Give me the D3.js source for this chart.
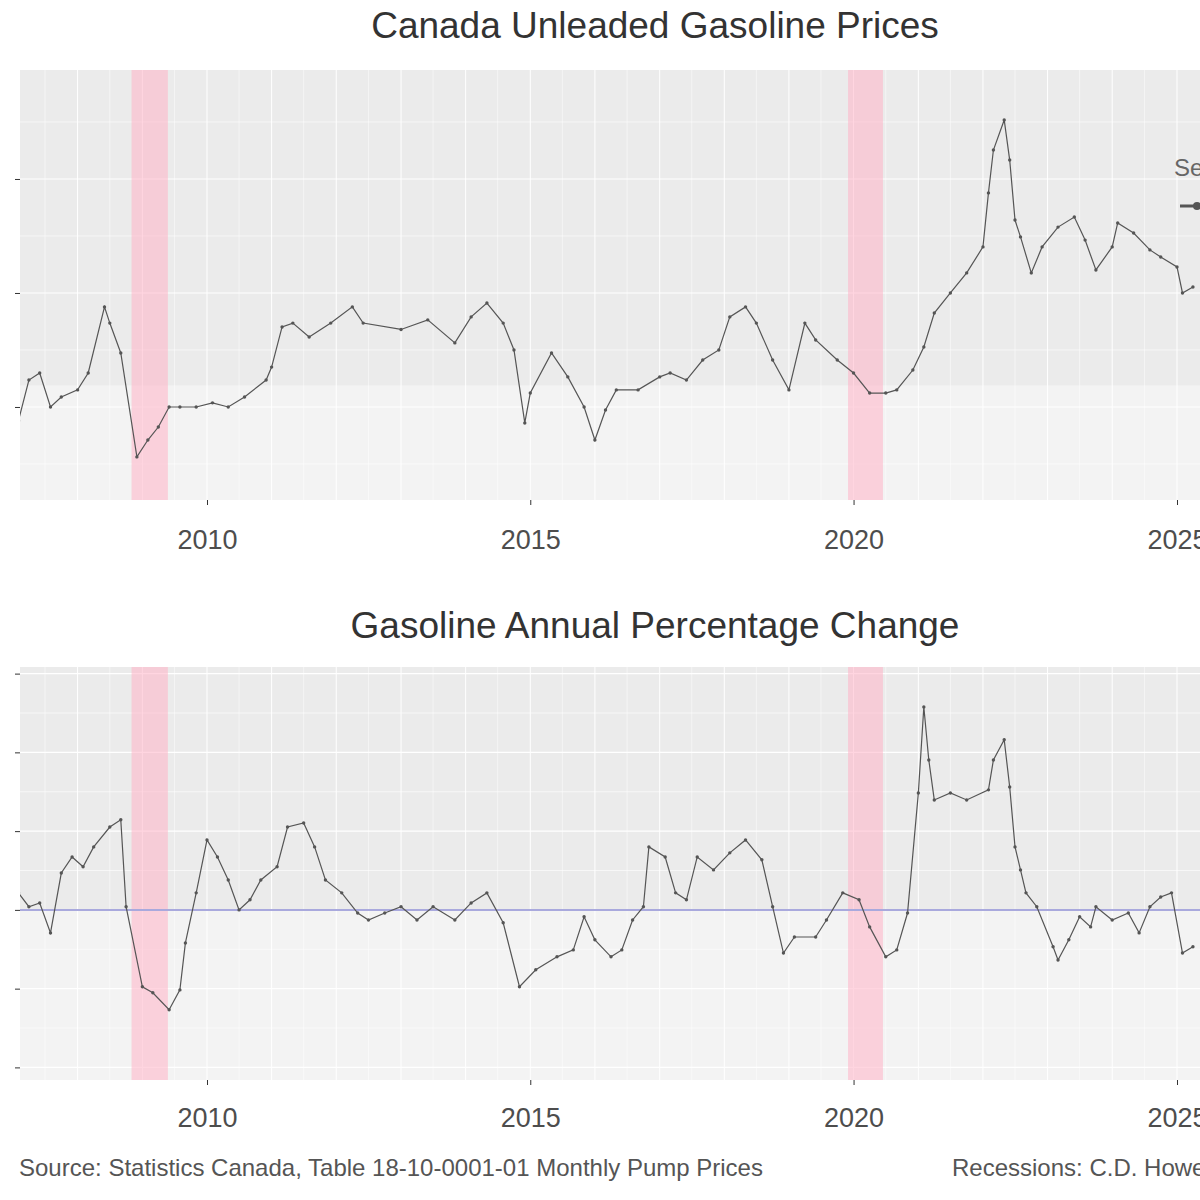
<!DOCTYPE html>
<html><head><meta charset="utf-8">
<script src="https://cdn.jsdelivr.net/npm/d3@7"></script>
<style>body{margin:0;background:#fff;overflow:hidden}text{font-family:"Liberation Sans",Arial,sans-serif}</style>
</head><body><svg id="c" width="1200" height="1200"></svg>
<script>
// ---- data ----
const priceDates = ["2007-02","2007-04","2007-06","2007-08","2007-10","2008-01","2008-03","2008-06","2008-07","2008-09","2008-12","2009-02","2009-04","2009-06","2009-08","2009-11","2010-02","2010-05","2010-08","2010-12","2011-01","2011-03","2011-05","2011-08","2011-12","2012-04","2012-06","2013-01","2013-06","2013-11","2014-02","2014-05","2014-08","2014-10","2014-12","2015-01","2015-05","2015-08","2015-11","2016-01","2016-03","2016-05","2016-09","2017-01","2017-03","2017-06","2017-09","2017-12","2018-02","2018-05","2018-07","2018-10","2019-01","2019-04","2019-06","2019-10","2020-01","2020-04","2020-07","2020-09","2020-12","2021-02","2021-04","2021-07","2021-10","2022-01","2022-02","2022-03","2022-05","2022-06","2022-07","2022-08","2022-10","2022-12","2023-03","2023-06","2023-08","2023-10","2024-01","2024-02","2024-05","2024-08","2024-10","2025-01","2025-02","2025-04"];
const priceValues = [94,111.8,114.9,100,104.4,107.5,114.9,143.9,136.8,123.7,78.1,85.5,91.2,100,100,100,101.8,100,104.4,111.8,117.5,135.1,136.8,130.7,136.8,143.9,136.8,134,138.2,128.1,139.5,145.6,136.8,125,93,106.1,123.7,113.2,100,85.5,98.7,107.5,107.5,113.2,114.9,111.8,120.6,125,139.5,143.9,136.8,120.6,107.5,136.8,129.4,120.6,114.9,106.1,106.1,107.5,116.2,126.3,141.2,150,158.8,170.2,193.9,212.7,225.9,208.3,182,174.6,158.8,170.2,178.9,183.3,173.2,160.1,170.2,180.7,176.3,168.9,165.8,161.4,150,152.6];

const changeDates = ["2007-02","2007-04","2007-06","2007-08","2007-10","2007-12","2008-02","2008-04","2008-07","2008-09","2008-10","2009-01","2009-03","2009-06","2009-08","2009-09","2009-11","2010-01","2010-03","2010-05","2010-07","2010-09","2010-11","2011-02","2011-04","2011-07","2011-09","2011-11","2012-02","2012-05","2012-07","2012-10","2013-01","2013-04","2013-07","2013-11","2014-02","2014-05","2014-08","2014-11","2015-02","2015-06","2015-09","2015-11","2016-01","2016-04","2016-06","2016-08","2016-10","2016-11","2017-02","2017-04","2017-06","2017-08","2017-11","2018-02","2018-05","2018-08","2018-10","2018-12","2019-02","2019-06","2019-08","2019-11","2020-02","2020-04","2020-07","2020-09","2020-11","2021-01","2021-02","2021-03","2021-04","2021-07","2021-10","2022-02","2022-03","2022-05","2022-06","2022-07","2022-08","2022-09","2022-11","2023-02","2023-03","2023-05","2023-07","2023-09","2023-10","2024-01","2024-04","2024-06","2024-08","2024-10","2024-12","2025-02","2025-04"];
const changeValues = [5.4,1.0,2.2,-7.3,11.7,16.8,13.7,20,26.3,28.6,1.0,-24.4,-26.3,-31.7,-25.4,-10.5,5.4,22.2,16.8,9.5,0,3.2,9.5,13.7,26.3,27.6,20,9.5,5.4,-1.0,-3.2,-1.0,1.0,-3.2,1.0,-3.2,2.2,5.4,-4.1,-24.4,-19,-14.9,-12.7,-2.2,-9.5,-14.9,-12.7,-3.2,1.0,20,16.8,5.4,3.2,16.8,12.7,18.1,22.2,15.9,1.0,-13.7,-8.6,-8.6,-3.2,5.4,3.2,-5.4,-14.9,-12.7,-1.0,37.1,64.4,47.6,34.9,37.1,34.9,38.1,47.6,54,39,20,12.7,5.4,1.0,-11.7,-15.9,-9.5,-2.2,-5.4,1.0,-3.2,-1.0,-7.3,1.0,4.1,5.4,-13.7,-11.7];

const recessionStarts = ["2008-11-01","2019-12-01"];
const recessionEnds   = ["2009-05-25","2020-06-15"];

const xTickDates  = ["2010-01-01","2015-01-01","2020-01-01","2025-01-01"];
const xTickLabels = ["2010","2015","2020","2025"];
const priceTicks  = [100,150,200];
const changeTicks = [-50,-25,0,25,50,75];
const priceBand   = [59.2,109.5];
const changeBand  = [-54,0];

const titleTop    = "Canada Unleaded Gasoline Prices";
const titleBottom = "Gasoline Annual Percentage Change";
const captionLeft = "Source: Statistics Canada, Table 18-10-0001-01 Monthly Pump Prices";
const captionRight= "Recessions: C.D. Howe Institute";
const legendTitle = "Series";

// ---- setup ----
const pM = d3.timeParse("%Y-%m"), pD = d3.timeParse("%Y-%m-%d");
const svg = d3.select("#c");
const X0 = 20, X1 = 1240;
const x = d3.scaleTime().domain([pD(xTickDates[0]), pD(xTickDates[3])]).range([207, 1177]);
const panels = [
  {y0:70, y1:500, dom:[59.2,247.8], ticks:priceTicks, minor:[75,125,175,225], dates:priceDates, vals:priceValues, band:priceBand, title:titleTop, titleY:38, labOff:30, zero:false},
  {y0:667, y1:1080, dom:[-54,77.1], ticks:changeTicks, minor:[-37.5,-12.5,12.5,37.5,62.5], dates:changeDates, vals:changeValues, band:changeBand, title:titleBottom, titleY:638, labOff:28, zero:true}
];
const defs = svg.append("defs");
const years = d3.range(2007, 2027).map(yr => new Date(yr,0,1));
const halfYears = d3.range(2007, 2026).map(yr => new Date(yr,6,1));

panels.forEach((P, i) => {
  const y = d3.scaleLinear().domain(P.dom).range([P.y1, P.y0]);
  defs.append("clipPath").attr("id","clip"+i).append("rect")
    .attr("x",X0).attr("y",P.y0).attr("width",X1-X0).attr("height",P.y1-P.y0);
  const g = svg.append("g").attr("clip-path",`url(#clip${i})`);
  g.append("rect").attr("x",X0).attr("y",P.y0).attr("width",X1-X0).attr("height",P.y1-P.y0).attr("fill","#EBEBEB");
  g.append("rect").attr("x",X0).attr("width",X1-X0)
    .attr("y",y(P.band[1])).attr("height",y(P.band[0])-y(P.band[1]))
    .attr("fill","#ffffff").attr("opacity",0.4);
  g.selectAll(".hmin").data(P.minor).join("line")
    .attr("x1",X0).attr("x2",X1).attr("y1",d=>y(d)).attr("y2",d=>y(d))
    .attr("stroke","#fff").attr("stroke-width",0.6);
  g.selectAll(".hmaj").data(P.ticks).join("line")
    .attr("x1",X0).attr("x2",X1).attr("y1",d=>y(d)).attr("y2",d=>y(d))
    .attr("stroke","#fff").attr("stroke-width",1.2);
  g.selectAll(".vmin").data(halfYears).join("line")
    .attr("x1",d=>x(d)).attr("x2",d=>x(d)).attr("y1",P.y0).attr("y2",P.y1)
    .attr("stroke","#fff").attr("stroke-width",0.5);
  g.selectAll(".vmaj").data(years).join("line")
    .attr("x1",d=>x(d)).attr("x2",d=>x(d)).attr("y1",P.y0).attr("y2",P.y1)
    .attr("stroke","#fff").attr("stroke-width",1);
  g.selectAll(".rec").data(recessionStarts).join("rect")
    .attr("x",(d)=>x(pD(d))).attr("width",(d,j)=>x(pD(recessionEnds[j]))-x(pD(d)))
    .attr("y",P.y0).attr("height",P.y1-P.y0)
    .attr("fill","#ffb3c6").attr("opacity",0.55);
  if (P.zero) {
    g.append("line").attr("x1",X0).attr("x2",X1).attr("y1",y(0)).attr("y2",y(0))
      .attr("stroke","#a9a9dd").attr("stroke-width",2);
  }
  const pts = P.dates.map((d,k)=>({d:pM(d), v:P.vals[k]}));
  g.append("path").datum(pts)
    .attr("d", d3.line().x(d=>x(d.d)).y(d=>y(d.v)))
    .attr("fill","none").attr("stroke","#555").attr("stroke-width",1.2);
  g.selectAll(".pt").data(pts).join("circle")
    .attr("cx",d=>x(d.d)).attr("cy",d=>y(d.v)).attr("r",1.7).attr("fill","#555");
  const ax = svg.append("g").attr("transform",`translate(0,${P.y1})`)
    .call(d3.axisBottom(x).tickValues(xTickDates.map(pD)).tickFormat((d,j)=>xTickLabels[j]).tickSize(5).tickPadding(P.labOff-5));
  ax.select(".domain").remove();
  ax.selectAll("line").attr("stroke","#333");
  ax.selectAll("text").attr("font-size",27).attr("fill","#4d4d4d").attr("font-family","Liberation Sans, Arial, sans-serif");
  const ay = svg.append("g").attr("transform",`translate(${X0},0)`)
    .call(d3.axisLeft(y).tickValues(P.ticks).tickSize(5).tickFormat(""));
  ay.select(".domain").remove();
  ay.selectAll("line").attr("stroke","#333");
  svg.append("text").attr("x",655).attr("y",P.titleY).attr("text-anchor","middle")
    .attr("font-size",37).attr("fill","#333").text(P.title);
});

const lg = svg.append("g");
lg.append("text").attr("x",1174).attr("y",176).attr("font-size",24).attr("fill","#666").text(legendTitle);
lg.append("line").attr("x1",1180).attr("x2",1214).attr("y1",206).attr("y2",206).attr("stroke","#555").attr("stroke-width",3);
lg.append("circle").attr("cx",1197).attr("cy",206).attr("r",4).attr("fill","#555");

svg.append("text").attr("x",19).attr("y",1176).attr("font-size",24).attr("fill","#555").text(captionLeft);
svg.append("text").attr("x",952).attr("y",1176).attr("font-size",24).attr("fill","#555").text(captionRight);
</script></body></html>
